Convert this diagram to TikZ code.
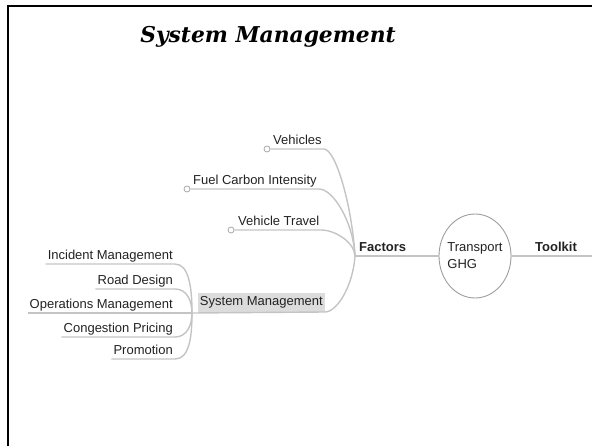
\documentclass[tikz,border=0pt]{standalone}
\usepackage{fontspec}
\setmainfont{Liberation Sans}
\newfontfamily\titlefont{DejaVu Serif}
\usetikzlibrary{shapes.geometric}

\definecolor{branch}{HTML}{C4C4C4}
\definecolor{ink}{HTML}{222222}
\definecolor{hilite}{HTML}{DCDCDC}

\tikzset{
  topic/.style={font=\fontsize{13}{17}\selectfont, text=ink, inner xsep=2pt, inner ysep=1pt, text height=9.5pt, text depth=3pt},
  keytopic/.style={topic, font=\fontsize{13}{17}\selectfont\bfseries},
  leaf/.style={circle, draw=branch!85!black, fill=white, line width=0.8pt, inner sep=0pt, minimum size=6pt},
  link/.style={draw=branch, line width=1.4pt},
}

\begin{document}
\begin{tikzpicture}[x=1pt,y=1pt]
	\useasboundingbox (0,0) rectangle (592,445);
	\draw [line width=2.5pt] (8,-5) -- (8,439) -- (600,439);

	\node (T) at (268,408) {\titlefont\bfseries\itshape\fontsize{21.8}{26}\selectfont System Management};

	\coordinate (J) at (355,189);
	\coordinate (K) at (192,132);
	\coordinate (E) at (592,189);

	% factors side
	\node [leaf] (Vc) at (267,296) {};
	\node [topic,anchor=south west] (V) at (271,296) {Vehicles};
	\node [leaf] (Fc) at (187,256) {};
	\node [topic,anchor=south west] (FCI) at (191,256) {Fuel Carbon Intensity};
	\node [leaf] (VTc) at (231,215) {};
	\node [topic,anchor=south west] (VT) at (236,215) {Vehicle Travel};
	\node [topic,fill=hilite,inner ysep=3.2pt,anchor=south east] (SM) at (325,133) {System Management};
	\node [keytopic,anchor=south west] (F) at (357,189) {Factors};

	\node [ellipse,draw=branch!80!black,line width=0.9pt,inner xsep=-4pt,minimum width=72pt,minimum height=84pt,align=left,text=ink,font=\fontsize{13}{17}\selectfont] (G) at (475,189) {Transport\\GHG};
	\node [keytopic,anchor=south west] (TK) at (533,189) {Toolkit};

	\draw [link] (Vc) -- (V.south east) .. controls +(12,0) and +(-3,50) .. (J);
	\draw [link] (Fc) -- (FCI.south east) .. controls +(14,0) and +(-2,35) .. (J);
	\draw [link] (VTc) -- (VT.south east) .. controls +(12,0) and +(-1,15) .. (J);
	\draw [link] (K) -- (SM.south east) .. controls +(12,0) and +(-2,-30) .. (J);
	\draw [link] (J) -- (F.south east) -- (G.west);
	\draw [link] (G.east) -- (TK.south west) -- (E);

	% system management side
	\node [topic,anchor=south east] (IM) at (175,181) {Incident Management};
	\node [topic,anchor=south east] (RD) at (175,156) {Road Design};
	\node [topic,anchor=south east] (OM) at (175,132) {Operations Management};
	\node [topic,anchor=south east] (CP) at (175,108) {Congestion Pricing};
	\node [topic,anchor=south east] (P) at (175,86) {Promotion};

	\draw [link] (IM.south west) -- (IM.south east) .. controls +(14,0) and +(0,25) .. (K);
	\draw [link] (RD.south west) -- (RD.south east) .. controls +(12,0) and +(0,12) .. (K);
	\draw [link] (OM.south west) -- (K);
	\draw [link] (CP.south west) -- (CP.south east) .. controls +(12,0) and +(0,-12) .. (K);
	\draw [link] (P.south west) -- (P.south east) .. controls +(14,0) and +(0,-25) .. (K);
\end{tikzpicture}
\end{document}
